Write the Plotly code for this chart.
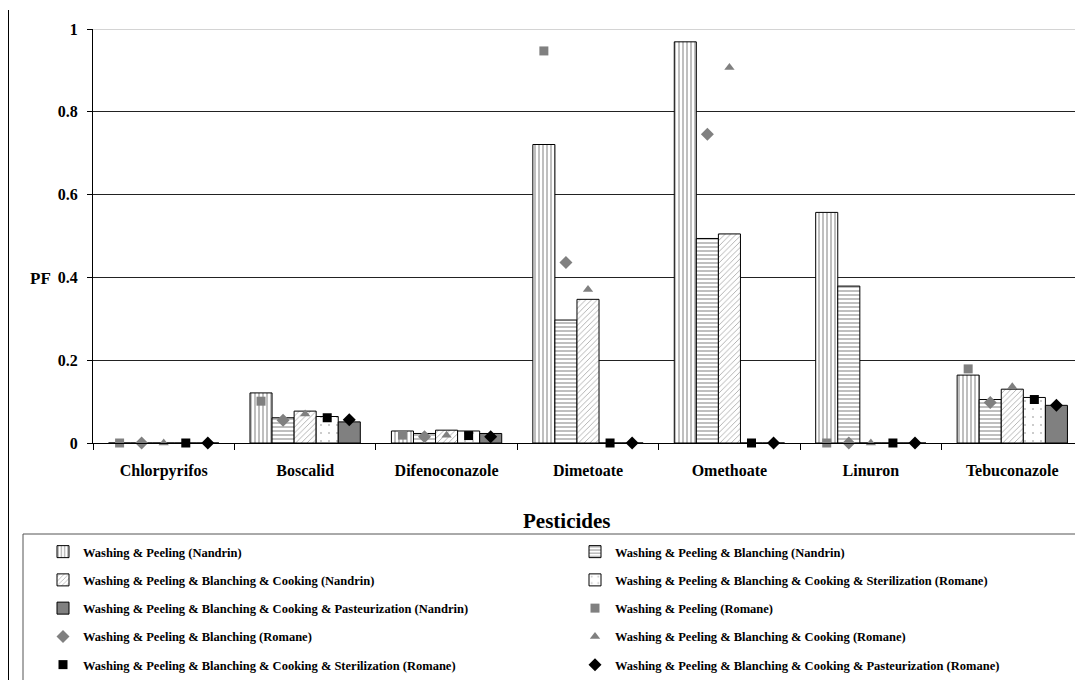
import plotly.graph_objects as go

categories = ["Chlorpyrifos", "Boscalid", "Difenoconazole", "Dimetoate",
              "Omethoate", "Linuron", "Tebuconazole"]

# Bars
wp_nandrin = [0, 0.121, 0.029, 0.721, 0.969, 0.557, 0.164]
wpb_nandrin = [0, 0.061, 0.023, 0.297, 0.494, 0.379, 0.105]
wpbc_nandrin = [0, 0.077, 0.031, 0.347, 0.505, 0, 0.130]
wpbcs_romane_bar = [0, 0.064, 0.029, 0, 0, 0, 0.110]
wpbcp_nandrin = [0, 0.051, 0.023, 0, 0, 0, 0.091]

# Markers
wp_romane = [0, 0.101, 0.019, 0.947, None, 0, 0.179]
wpb_romane = [0, 0.055, 0.015, 0.436, 0.746, 0, 0.098]
wpbc_romane = [0, 0.070, 0.019, 0.371, 0.907, 0, 0.136]
wpbcs_romane = [0, 0.061, 0.018, 0, 0, 0, 0.105]
wpbcp_romane = [0, 0.056, 0.015, 0, 0, 0, 0.091]

bar_names = [
    "Washing & Peeling (Nandrin)",
    "Washing & Peeling & Blanching (Nandrin)",
    "Washing & Peeling & Blanching & Cooking (Nandrin)",
    "Washing & Peeling & Blanching & Cooking & Sterilization (Romane)",
    "Washing & Peeling & Blanching & Cooking & Pasteurization (Nandrin)",
]
marker_names = [
    "Washing & Peeling (Romane)",
    "Washing & Peeling & Blanching (Romane)",
    "Washing & Peeling & Blanching & Cooking (Romane)",
    "Washing & Peeling & Blanching & Cooking & Sterilization (Romane)",
    "Washing & Peeling & Blanching & Cooking & Pasteurization (Romane)",
]

SERIF = "Liberation Serif, Times New Roman, serif"
fig = go.Figure()

bar_series = [wp_nandrin, wpb_nandrin, wpbc_nandrin, wpbcs_romane_bar, wpbcp_nandrin]
bar_styles = [
    dict(color="white", pattern=dict(shape="|", fgcolor="black", bgcolor="white", size=4, solidity=0.25)),
    dict(color="white", pattern=dict(shape="-", fgcolor="black", bgcolor="white", size=4, solidity=0.25)),
    dict(color="white", pattern=dict(shape="/", fgcolor="#444444", bgcolor="white", size=4, solidity=0.2)),
    dict(color="white", pattern=dict(shape=".", fgcolor="#777777", bgcolor="white", size=8, solidity=0.05)),
    dict(color="#808080"),
]
bar_legends = ["legend", "legend2", "legend", "legend2", "legend"]
for i, (vals, st) in enumerate(zip(bar_series, bar_styles)):
    fig.add_trace(go.Bar(
        x=categories, y=vals, name=bar_names[i],
        marker=dict(line=dict(color="black", width=1), **st),
        legend=bar_legends[i], legendgroup=f"b{i}",
    ))

mk_series = [wp_romane, wpb_romane, wpbc_romane, wpbcs_romane, wpbcp_romane]
mk_styles = [
    dict(symbol="square", color="#808080", size=9),
    dict(symbol="diamond", color="#808080", size=10),
    dict(symbol="triangle-up", color="#808080", size=9),
    dict(symbol="square", color="black", size=9),
    dict(symbol="diamond", color="black", size=10),
]
mk_legends = ["legend2", "legend", "legend2", "legend", "legend2"]
for i, (vals, st) in enumerate(zip(mk_series, mk_styles)):
    fig.add_trace(go.Scatter(
        x=categories, y=vals, name=marker_names[i], mode="markers",
        marker=dict(line=dict(width=0), **st), cliponaxis=False,
        legend=mk_legends[i], legendgroup=f"m{i}",
    ))

# The page body has an 8px margin; the figure is sized so it ends at the window edge.
OFF = 8
W, H = 1083 - OFF, 680 - OFF
L, T = 93 - OFF, 29 - OFF
R = 0
PB = 443 - OFF           # plot bottom in figure px
B = H - PB
pw, ph = W - L - R, PB - T


def px_x(x_ref):
    return (x_ref - OFF - L) / pw


def px_y(y_ref):
    return (PB - (y_ref - OFF)) / ph


legend_font = dict(family=SERIF, size=12.5, color="black", weight="bold")
fig.update_layout(
    width=W, height=H,
    margin=dict(l=L, r=R, t=T, b=B, autoexpand=False),
    paper_bgcolor="white", plot_bgcolor="white",
    barmode="group", bargap=0.22, bargroupgap=0,
    scattermode="group", scattergap=0.22,
    font=dict(family=SERIF, color="black"),
    legend=dict(orientation="v", x=px_x(43), y=px_y(537), xanchor="left", yanchor="top",
                traceorder="grouped", tracegroupgap=9, font=legend_font,
                bgcolor="rgba(0,0,0,0)", borderwidth=0),
    legend2=dict(orientation="v", x=px_x(575), y=px_y(537), xanchor="left", yanchor="top",
                 traceorder="grouped", tracegroupgap=9, font=legend_font,
                 bgcolor="rgba(0,0,0,0)", borderwidth=0),
    xaxis=dict(type="category", showline=True, linecolor="black", linewidth=1,
               ticks="outside", tickson="boundaries", ticklen=6, tickcolor="black",
               tickfont=dict(family=SERIF, size=16, color="black", weight="bold"),
               ticklabelstandoff=13, showgrid=False),
    yaxis=dict(range=[0, 1], dtick=0.2, showline=True, linecolor="black", linewidth=1,
               ticks="outside", ticklen=5, tickcolor="black",
               tickfont=dict(family=SERIF, size=16, color="black", weight="bold"),
               ticklabelstandoff=6,
               showgrid=True, gridcolor="#222222", gridwidth=1, zeroline=False),
    annotations=[
        dict(text="PF", xref="paper", yref="paper", x=px_x(40), y=px_y(278),
             showarrow=False, xanchor="center", yanchor="middle",
             font=dict(family=SERIF, size=17, color="black", weight="bold")),
        dict(text="Pesticides", xref="paper", yref="paper", x=px_x(566), y=px_y(521),
             showarrow=False, xanchor="center", yanchor="middle",
             font=dict(family=SERIF, size=21, color="black", weight="bold")),
    ],
    shapes=[
        dict(type="line", xref="paper", yref="y", x0=0, x1=1, y0=1, y1=1,
             line=dict(color="#aaaaaa", width=1)),
        dict(type="line", xref="paper", yref="paper", x0=px_x(8.5), x1=px_x(8.5),
             y0=px_y(10), y1=px_y(700), line=dict(color="black", width=1)),
        dict(type="rect", xref="paper", yref="paper", x0=px_x(23), x1=px_x(1100),
             y0=px_y(534), y1=px_y(700), line=dict(color="#555555", width=1),
             fillcolor="rgba(0,0,0,0)"),
    ],
)

fig.write_html("out.html")
